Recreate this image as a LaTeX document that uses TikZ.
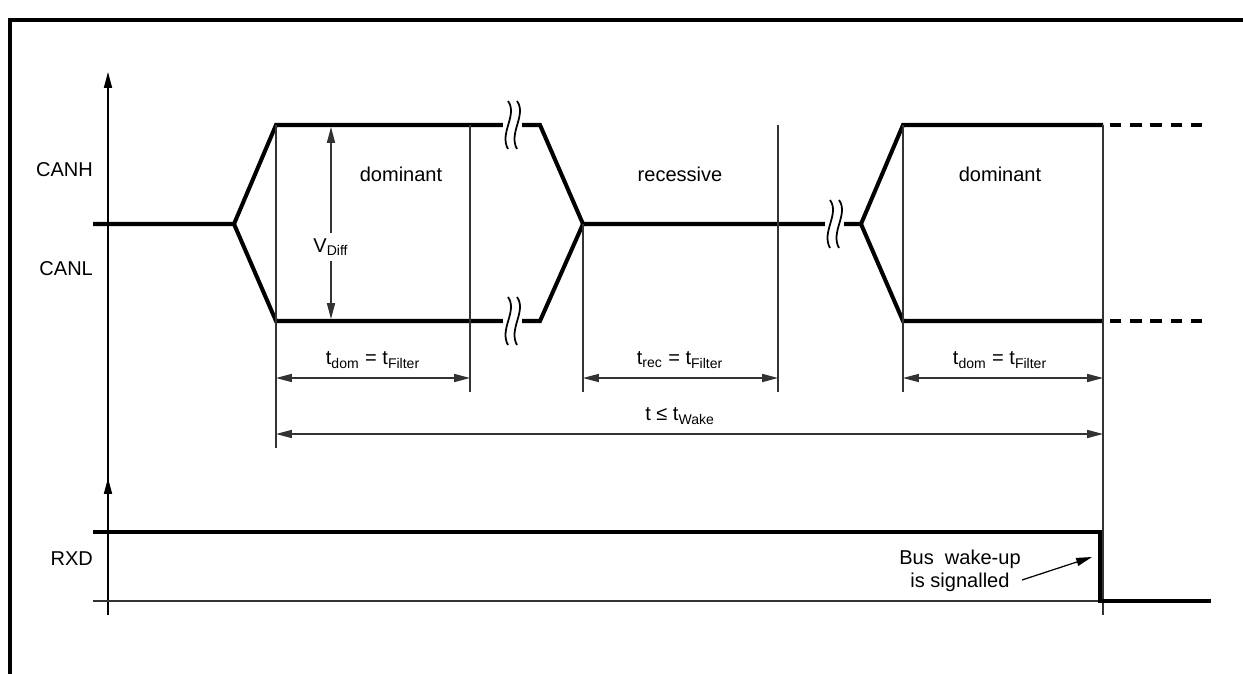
\documentclass[tikz,border=0pt]{standalone}
\usepackage{fontspec}
\setmainfont{Liberation Sans}
\usetikzlibrary{arrows.meta,positioning}
\tikzset{
  sig/.style={line width=2.3pt, line join=miter},
  thinln/.style={line width=0.7pt, black!80},
  tip/.style={-{Triangle[length=9pt,width=4.6pt]}},
  dim/.style={thinln, {Triangle[length=9pt,width=4.6pt]}-{Triangle[length=9pt,width=4.6pt]}},
  lbl/.style={font=\fontsize{11.4}{13}\selectfont, inner sep=1pt},
  wavebreak/.pic={
    \fill[white] (-7,-18) rectangle (12,18);
    \draw[line width=1pt] (-2,-24) .. controls (8,-10) and (-11,8) .. (-2,24);
    \draw[line width=1pt] (7,-24) .. controls (17,-10) and (-2,8) .. (7,24);
  }
}
\begin{document}
\begin{tikzpicture}[x=0.02cm,y=-0.02cm]
\useasboundingbox (0,0) rectangle (1243,673);

%frame
\draw[line width=2.8pt, line join=miter] (10,690) -- (10,20) -- (1260,20);

%axes
\draw[thinln, black, tip] (108,615) -- (108,72);
\draw[thinln, black, tip] (108,615) -- (108,478);

%points of CANH / CANL
\coordinate (s0) at (93,224);
\coordinate (f1) at (234,224);
\coordinate (h1) at (276,125);
\coordinate (l1) at (276,321);
\coordinate (h2) at (540,125);
\coordinate (l2) at (540,321);
\coordinate (m2) at (583,224);
\coordinate (f3) at (861,224);
\coordinate (h3) at (903,125);
\coordinate (l3) at (903,321);
\coordinate (h4) at (1103,125);
\coordinate (l4) at (1103,321);
\coordinate (h5) at (1210,125);
\coordinate (l5) at (1210,321);
\coordinate (r1) at (470,125);
\coordinate (r2) at (778,125);

%bus
\draw[sig] (s0) -- (f1) -- (h1) -- (h2) -- (m2) -- (f3) -- (h3) -- (h4);
\draw[sig] (f1) -- (l1) -- (l2) -- (m2);
\draw[sig] (f3) -- (l3) -- (l4);
\draw[sig, dash pattern=on 6.5pt off 5pt] ([xshift=0.14cm]h4) -- (h5);
\draw[sig, dash pattern=on 6.5pt off 5pt] ([xshift=0.14cm]l4) -- (l5);

%breaks
\pic at (510,125) {wavebreak};
\pic at (510,321) {wavebreak};
\pic at (832,224) {wavebreak};

%guide lines
\coordinate (d1) at (0,378);
\coordinate (d2) at (0,434);
\coordinate (e1) at (0,392);
\draw[thinln] (h1) -- (h1 |- 0,448);
\draw[thinln] (r1) -- (r1 |- e1);
\draw[thinln] (m2) -- (m2 |- e1);
\draw[thinln] (r2) -- (r2 |- e1);
\draw[thinln] (h3) -- (h3 |- e1);
\draw[thinln] (h4) -- (h4 |- 0,615);

%V_Diff
\draw[dim] (331,127) -- (331,319);
\node[lbl, fill=white, inner sep=3pt] (vdiff) at (331,247) {V\textsubscript{Diff}};

%states
\node[lbl] (dom1) at (401,174) {dominant};
\node[lbl] (rec) at (680,174) {recessive};
\node[lbl] (dom2) at (1000,174) {dominant};
\node[lbl, anchor=east] (canh) at (95,170) {CANH};
\node[lbl, anchor=east] (canl) at (95,269) {CANL};

%times
\draw[dim] (h1 |- d1) -- (r1 |- d1);
\draw[dim] (m2 |- d1) -- (r2 |- d1);
\draw[dim] (h3 |- d1) -- (h4 |- d1);
\draw[dim] (h1 |- d2) -- (h4 |- d2);
\node[lbl] (tdom1) at (373,360) {t\textsubscript{dom} = t\textsubscript{Filter}};
\node[lbl] (trec) at (680,360) {t\textsubscript{rec} = t\textsubscript{Filter}};
\node[lbl] (tdom2) at (1000,360) {t\textsubscript{dom} = t\textsubscript{Filter}};
\node[lbl] (twake) at (680,416) {t ≤ t\textsubscript{Wake}};

%RXD
\coordinate (x0) at (93,532);
\coordinate (x1) at (1100,532);
\coordinate (x2) at (1100,601);
\coordinate (x3) at (1211,601);
\draw[thinln] (93,601) -- (x2);
\draw[sig] (x0) -- (x1) -- (x2) -- (x3);
\node[lbl, anchor=east] (rxd) at (95,559) {RXD};
\node[lbl, align=center] (wake) at (960,571) {Bus\ \ wake-up\\is signalled};
\draw[thinln, black, tip] (1022,580) -- (1092,557);
\end{tikzpicture}
\end{document}
